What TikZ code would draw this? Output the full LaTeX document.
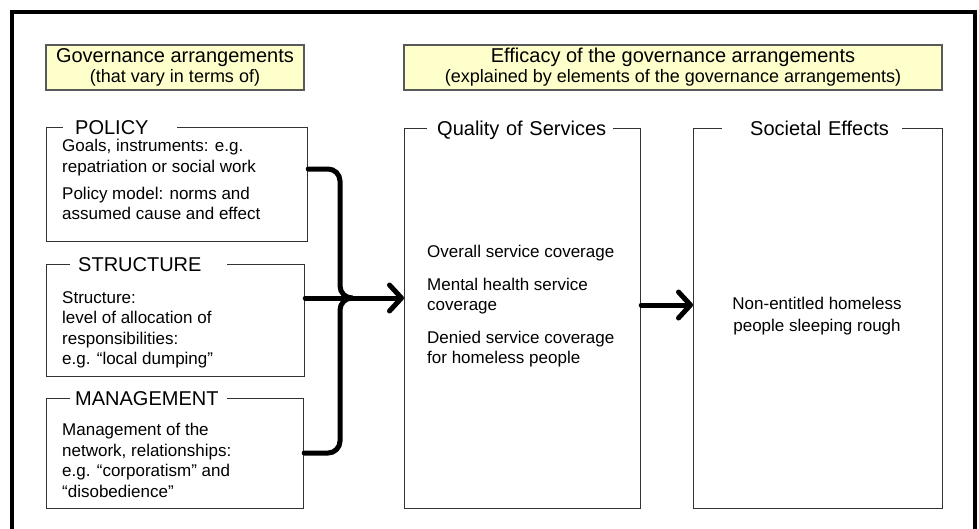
\documentclass[tikz,border=0pt]{standalone}
\usepackage{fontspec}
\setmainfont{Liberation Sans}
\usetikzlibrary{arrows.meta}
\definecolor{headyellow}{HTML}{FFFFCC}
\tikzstyle{headbox} = [draw=black!65, line width=1.2pt, fill=headyellow, align=center, inner sep=0pt, font=\fontsize{18}{20}\selectfont]
\tikzstyle{box} = [draw=black!80, line width=1.2pt, anchor=north west, inner sep=0pt]
\tikzstyle{title} = [fill=white, anchor=west, align=left, inner xsep=0pt, inner ysep=2pt, text height=14.3pt, text depth=0pt, font=\fontsize{20}{24}\selectfont]
\tikzstyle{body} = [anchor=north west, align=left, inner sep=0pt, font=\fontsize{17}{20.5}\selectfont]
\tikzstyle{link} = [line width=5pt, line cap=round, rounded corners=12pt]
\tikzstyle{arrow} = [line width=5pt, line cap=round, -{Straight Barb[length=12pt, width=26pt, round]}]

\begin{document}
\begin{tikzpicture}[x=1pt, y=-1pt]
   \useasboundingbox (0,0) rectangle (979,528);
   \clip (0,0) rectangle (979,528);
   \draw[line width=4pt] (12,12) rectangle (975,560);

   \node[headbox, minimum width=258pt, minimum height=45pt] (govern) at (175,67.5)
      {{\fontsize{20}{20}\selectfont Governance arrangements}\\(that vary in terms of)};
   \node[headbox, minimum width=538pt, minimum height=45pt] (efficacy) at (673,67.5)
      {{\fontsize{20}{20}\selectfont Efficacy of the governance arrangements}\\(explained by elements of the governance arrangements)};

   \node[box, minimum width=261pt, minimum height=114pt] (policy)     at (46,127)  {};
   \node[box, minimum width=258pt, minimum height=112pt] (structure)  at (46,264)  {};
   \node[box, minimum width=257pt, minimum height=110pt] (management) at (46,398)  {};
   \node[box, minimum width=236pt, minimum height=380pt] (quality)    at (404,128) {};
   \node[box, minimum width=249pt, minimum height=380pt] (societal)   at (693,128) {};

   \node[title, text width=114pt] (policytitle)     at (63,127)  {\hspace*{12pt}POLICY};
   \node[title, text width=157pt] (structuretitle)  at (70,264)  {\hspace*{8pt}STRUCTURE};
   \node[title, text width=157pt] (managementtitle) at (70,398)  {\hspace*{5pt}MANAGEMENT};
   \node[title, text width=186pt] (qualitytitle)    at (427,128) {\hspace*{10pt}Quality of Services};
   \node[title, text width=180pt] (societaltitle)   at (722,128) {\hspace*{28pt}Societal Effects};

   \node[body] (policytext) at (62,139)
      {Goals, instruments: e.g.\\repatriation or social work\\[6.5pt]Policy model: norms and\\assumed cause and effect};
   \node[body] (structuretext) at (62,291)
      {Structure:\\level of allocation of\\responsibilities:\\e.g. “local dumping”};
   \node[body] (managementtext) at (62,423)
      {Management of the\\network, relationships:\\e.g. “corporatism” and\\“disobedience”};
   \node[body] (qualitytext) at (427,245)
      {Overall service coverage\\[12pt]Mental health service\\coverage\\[12pt]Denied service coverage\\for homeless people};
   \node[body, anchor=center, align=center, font=\fontsize{17}{22}\selectfont] (societaltext) at (817,316)
      {Non-entitled homeless\\people sleeping rough};

   \coordinate (join) at (352,298);
   \draw[link] (policy.east |- 0,169) -- (340,169) -- (340,298) -- (join);
   \draw[link] (management.east |- 0,453) -- (340,453) -- (340,298) -- (join);
   \draw[arrow] (structure.east |- join) -- (quality.west |- join);
   \draw[arrow] (quality.east |- 0,305) -- (societal.west |- 0,305);
\end{tikzpicture}
\end{document}
